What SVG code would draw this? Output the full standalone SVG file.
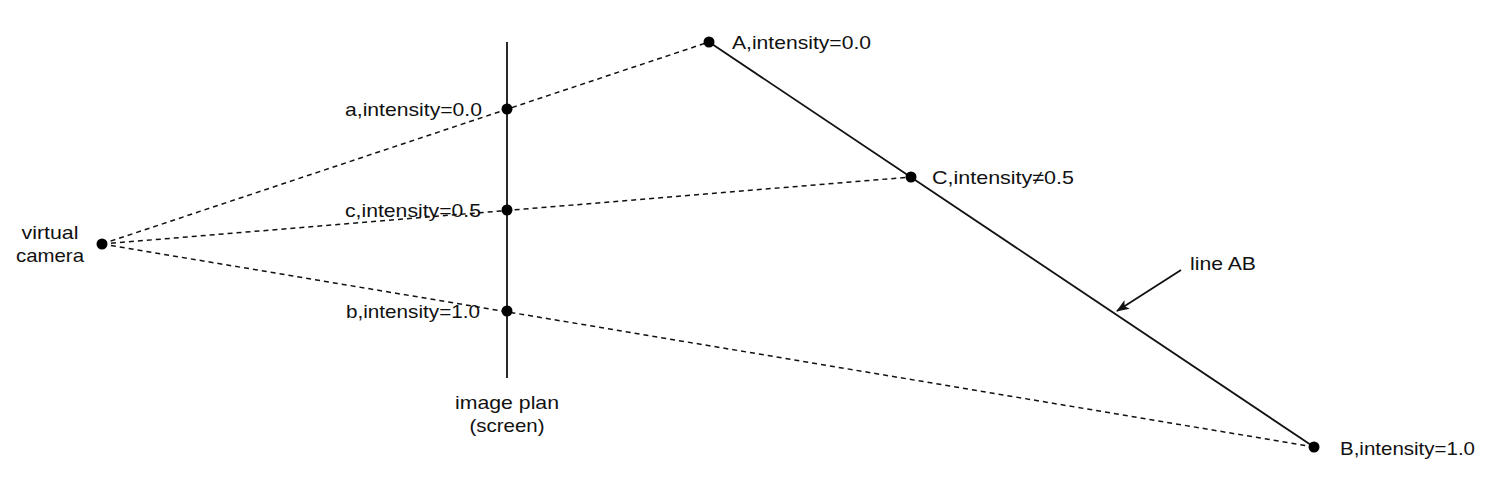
<svg xmlns="http://www.w3.org/2000/svg" width="1500" height="494" viewBox="0 0 1500 494">
<style>
text{font-family:"Liberation Sans",Arial,sans-serif;font-size:19px;fill:#111}
.dash{stroke:#111;stroke-width:1.5;stroke-dasharray:5 4;fill:none}
.solid{stroke:#111;stroke-width:1.8;fill:none}
.dot{fill:#000}
</style>
<defs>
<marker id="ah" markerWidth="13" markerHeight="10" refX="12" refY="5" orient="auto" markerUnits="userSpaceOnUse">
<path d="M0,0 L13,5 L0,10 L3,5 Z" fill="#111"/>
</marker>
</defs>
<g id="connectors">
<line class="dash" x1="102" y1="244" x2="709" y2="42"/>
<line class="dash" x1="102" y1="244" x2="911" y2="177"/>
<line class="dash" x1="102" y1="244" x2="1314" y2="447"/>
<line class="solid" x1="507" y1="42" x2="507" y2="378"/>
<line class="solid" x1="709" y1="42" x2="1314" y2="447"/>
<line class="solid" x1="1181" y1="270" x2="1117" y2="311" marker-end="url(#ah)"/>
</g>
<g id="camera">
<circle class="dot" cx="102" cy="244" r="5.5"/>
<text x="50" y="239" text-anchor="middle" textLength="57" lengthAdjust="spacingAndGlyphs">virtual</text>
<text x="50" y="262" text-anchor="middle" textLength="68" lengthAdjust="spacingAndGlyphs">camera</text>
</g>
<g id="node-a">
<circle class="dot" cx="507" cy="109" r="5.5"/>
<text x="345" y="116" textLength="137" lengthAdjust="spacingAndGlyphs">a,intensity=0.0</text>
</g>
<g id="node-c">
<circle class="dot" cx="507" cy="210" r="5.5"/>
<text x="345" y="217" textLength="136" lengthAdjust="spacingAndGlyphs">c,intensity=0.5</text>
</g>
<g id="node-b">
<circle class="dot" cx="507" cy="311" r="5.5"/>
<text x="346" y="318" textLength="134" lengthAdjust="spacingAndGlyphs">b,intensity=1.0</text>
</g>
<g id="node-A">
<circle class="dot" cx="709" cy="42" r="5.5"/>
<text x="732" y="49" textLength="139" lengthAdjust="spacingAndGlyphs">A,intensity=0.0</text>
</g>
<g id="node-C">
<circle class="dot" cx="911" cy="177" r="5.5"/>
<text x="932" y="184" textLength="142" lengthAdjust="spacingAndGlyphs">C,intensity≠0.5</text>
</g>
<g id="node-B">
<circle class="dot" cx="1314" cy="447" r="5.5"/>
<text x="1340" y="455" textLength="135" lengthAdjust="spacingAndGlyphs">B,intensity=1.0</text>
</g>
<g id="label-lineAB">
<text x="1190" y="270" textLength="66" lengthAdjust="spacingAndGlyphs">line AB</text>
</g>
<g id="label-plane">
<text x="507" y="409" text-anchor="middle" textLength="104" lengthAdjust="spacingAndGlyphs">image plan</text>
<text x="507" y="432" text-anchor="middle" textLength="75" lengthAdjust="spacingAndGlyphs">(screen)</text>
</g>
</svg>
